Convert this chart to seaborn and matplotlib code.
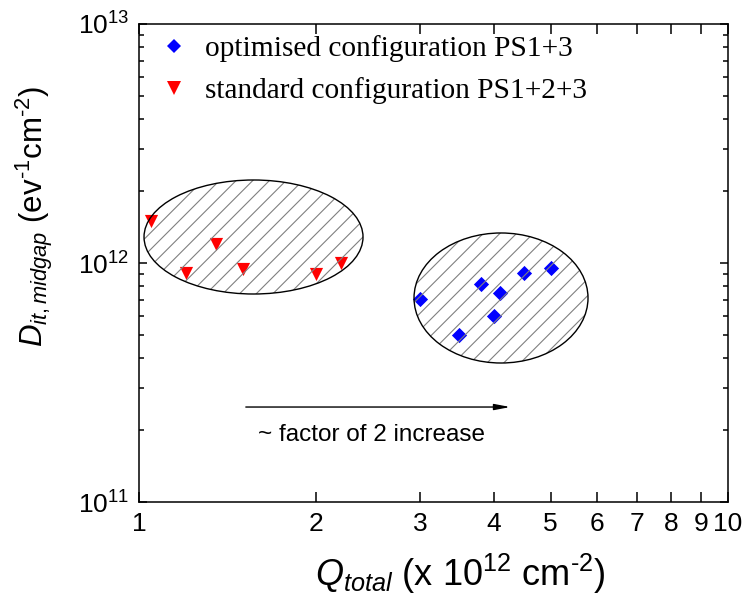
import matplotlib
matplotlib.use("Agg")
import matplotlib.pyplot as plt
import seaborn as sns
import pandas as pd
from matplotlib.patches import Ellipse
from matplotlib.lines import Line2D
from matplotlib.ticker import FixedLocator, FixedFormatter, LogLocator, NullFormatter, NullLocator

# Interface trap density at midgap vs total charge
opt_q = [3.0, 3.5, 3.8, 4.0, 4.1, 4.5, 5.0]
opt_dit = [0.71e12, 0.50e12, 0.82e12, 0.60e12, 0.75e12, 0.91e12, 0.95e12]
std_q = [1.05, 1.2, 1.35, 1.5, 2.0, 2.2]
std_dit = [1.5e12, 0.91e12, 1.2e12, 0.94e12, 0.90e12, 1.0e12]
series_names = ["optimised configuration PS1+3", "standard configuration PS1+2+3"]
x_ticks = [1, 2, 3, 4, 5, 6, 7, 8, 9, 10]
x_tick_labels = ["1", "2", "3", "4", "5", "6", "7", "8", "9", "10"]

sns.set_theme(style="ticks")
plt.rcParams.update({
    "font.family": ["Liberation Sans", "DejaVu Sans"],
    "mathtext.fontset": "custom",
    "mathtext.rm": "Liberation Sans",
    "mathtext.it": "Liberation Sans:italic",
    "mathtext.bf": "Liberation Sans:bold",
    "hatch.linewidth": 0.8,
    "axes.linewidth": 1.1,
    "text.color": "black",
})

df_opt = pd.DataFrame({"q": opt_q, "dit": opt_dit, "config": series_names[0]})
df_std = pd.DataFrame({"q": std_q, "dit": std_dit, "config": series_names[1]})

fig = plt.figure(figsize=(7.45, 6.06), dpi=100)
ax = fig.add_axes([0.1866, 0.1716, 0.7906, 0.7888])

sns.scatterplot(data=df_opt, x="q", y="dit", marker="D", color="#0000ff",
                s=60, linewidth=0, ax=ax, legend=False, zorder=2)
sns.scatterplot(data=df_std, x="q", y="dit", marker="v", color="#ff0000",
                s=90, linewidth=0, ax=ax, legend=False, zorder=2)

ax.set_xscale("log")
ax.set_yscale("log")
ax.set_xlim(1, 10)
ax.set_ylim(1e11, 1e13)

# hatched grouping ellipses (axes-fraction placement)
for (cx, cy, w, h) in [(0.1944, 0.5544, 0.3718, 0.2385), (0.6146, 0.4268, 0.2954, 0.272)]:
    ax.add_patch(Ellipse((cx, cy), w, h, transform=ax.transAxes, facecolor="none",
                         edgecolor="#808080", hatch="//", linewidth=0, zorder=3))
    ax.add_patch(Ellipse((cx, cy), w, h, transform=ax.transAxes, facecolor="none",
                         edgecolor="black", linewidth=1.0, zorder=4))

# x axis: integer ticks 1..10
ax.xaxis.set_major_locator(FixedLocator(x_ticks))
ax.xaxis.set_major_formatter(FixedFormatter(x_tick_labels))
ax.xaxis.set_minor_locator(NullLocator())
ax.xaxis.set_minor_formatter(NullFormatter())
# y axis: decades with minor subdivisions
ax.yaxis.set_major_locator(LogLocator(base=10, numticks=10))
ax.yaxis.set_minor_locator(LogLocator(base=10, subs=range(2, 10), numticks=100))
ax.yaxis.set_minor_formatter(NullFormatter())

ax.tick_params(which="both", direction="in", top=True, right=True, color="black",
               width=1.1, labelsize=19, labelcolor="black", pad=7)
ax.tick_params(axis="x", which="major", length=7)
ax.tick_params(axis="y", which="major", length=6)
ax.tick_params(axis="y", which="minor", length=3.5)
for sp in ax.spines.values():
    sp.set_color("black")

ax.set_xlabel(r"$Q_{total}$ (x 10$^{12}$ cm$^{\text{-}2}$)", fontsize=26, color="black")
ax.set_ylabel(r"$D_{it,midgap}$ (ev$^{\text{-}1}$cm$^{\text{-}2}$)", fontsize=22.5, color="black")
ax.xaxis.set_label_coords(0.545, -0.105)
ax.yaxis.set_label_coords(-0.143, 0.598)

# arrow and annotation
ax.annotate("", xy=(0.635, 0.1987), xytext=(0.1766, 0.1987), xycoords="axes fraction",
            arrowprops=dict(arrowstyle="-|>,head_length=0.94,head_width=0.18",
                            mutation_scale=10, color="black", lw=1.0))
ax.text(0.394, 0.14, "~ factor of 2 increase", transform=ax.transAxes,
        ha="center", va="center", fontsize=17.5, color="black")

handles = [
    Line2D([], [], marker="D", color="#0000ff", linestyle="none", markersize=7.5, markeredgewidth=0),
    Line2D([], [], marker="v", color="#ff0000", linestyle="none", markersize=9.5, markeredgewidth=0),
]
ax.legend(handles, series_names, loc="upper left", bbox_to_anchor=(0.012, 0.992),
          frameon=False, prop={"family": "Liberation Serif", "size": 21.2},
          handletextpad=0.35, labelspacing=0.5, borderaxespad=0.0, handlelength=1.4,
          borderpad=0.25, labelcolor="black")

fig.savefig("out.png", dpi=100)
